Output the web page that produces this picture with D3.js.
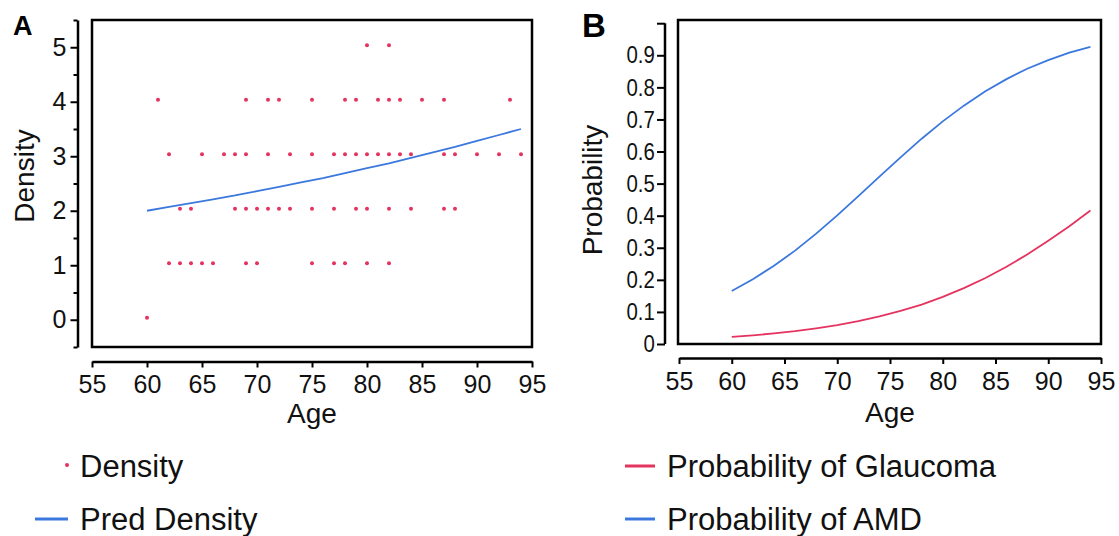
<!DOCTYPE html>
<html>
<head>
<meta charset="utf-8">
<script src="https://cdn.jsdelivr.net/npm/d3@7"></script>
<style>
  body { margin: 0; background: #fff; }
  svg { display: block; font-family: "Liberation Sans", Arial, sans-serif; }
  .frame { fill: none; stroke: #000; stroke-width: 2.5; }
  .axis path.domain { stroke: #000; stroke-width: 2.5; }
  .axis line { stroke: #000; stroke-width: 2; }
  .axis text { fill: #111; font-size: 25px; font-family: "Liberation Sans", Arial, sans-serif; }
  .title { font-size: 28px; fill: #111; }
  .legend text { font-size: 31px; fill: #111; }
</style>
</head>
<body>
<svg id="chart" width="1119" height="536"></svg>
<script>
//----------------
// Data
//----------------

// panel A: observed density by age
const densityAge   = [80, 82,
                      61, 69, 71, 72, 75, 78, 79, 81, 82, 83, 85, 87, 93,
                      62, 65, 67, 68, 69, 71, 73, 75, 77, 78, 79, 80, 81, 82, 83, 84, 87, 88, 90, 92, 94,
                      63, 64, 68, 69, 70, 71, 72, 73, 75, 77, 79, 80, 82, 84, 87, 88,
                      62, 63, 64, 65, 66, 69, 70, 75, 77, 78, 80, 82,
                      60];
const densityValue = [5, 5,
                      4, 4, 4, 4, 4, 4, 4, 4, 4, 4, 4, 4, 4,
                      3, 3, 3, 3, 3, 3, 3, 3, 3, 3, 3, 3, 3, 3, 3, 3, 3, 3, 3, 3, 3,
                      2, 2, 2, 2, 2, 2, 2, 2, 2, 2, 2, 2, 2, 2, 2, 2,
                      1, 1, 1, 1, 1, 1, 1, 1, 1, 1, 1, 1,
                      0];

// panel A: predicted density
const predAge   = [60, 62, 64, 66, 68, 70, 72, 74, 76, 78, 80, 82, 84, 86, 88, 90, 92, 94];
const predValue = [2.00, 2.07, 2.14, 2.21, 2.28, 2.36, 2.44, 2.52, 2.60, 2.69, 2.78, 2.87, 2.97, 3.07, 3.17, 3.28, 3.39, 3.50];

// panel B: probabilities by age
const probAge      = [60, 62, 64, 66, 68, 70, 72, 74, 76, 78, 80, 82, 84, 86, 88, 90, 92, 94];
const probGlaucoma = [0.022, 0.027, 0.033, 0.040, 0.049, 0.059, 0.071, 0.086, 0.103, 0.123, 0.147, 0.174, 0.205, 0.240, 0.279, 0.322, 0.367, 0.416];
const probAMD      = [0.165, 0.202, 0.244, 0.291, 0.344, 0.401, 0.461, 0.522, 0.582, 0.640, 0.694, 0.743, 0.787, 0.825, 0.858, 0.885, 0.908, 0.926];

const ageTicks = [55, 60, 65, 70, 75, 80, 85, 90, 95];
const densityTicks = [0, 1, 2, 3, 4, 5];
const densityMinor = [-0.5, 0.5, 1.5, 2.5, 3.5, 4.5, 5.5];
const probTicks = [0, 0.1, 0.2, 0.3, 0.4, 0.5, 0.6, 0.7, 0.8, 0.9, 1.0];

//----------------
// Constants
//----------------

const red = "#e5335f";
const blue = "#3b78de";

const svg = d3.select("#chart");

//----------------
// Panel A
//----------------

const xA = d3.scaleLinear().domain([55, 95]).range([92, 532]);
const yA = d3.scaleLinear().domain([-0.5, 5.5]).range([347, 20]);

svg.append("rect").attr("class", "frame")
  .attr("x", xA.range()[0]).attr("y", yA.range()[1])
  .attr("width", xA.range()[1] - xA.range()[0])
  .attr("height", yA.range()[0] - yA.range()[1]);

// minor ticks first, then the labelled ones
svg.append("g").attr("class", "axis")
  .attr("transform", "translate(77.5,0)")
  .call(d3.axisLeft(yA).tickValues(densityMinor).tickSize(4).tickSizeOuter(0).tickFormat(""));

svg.append("g").attr("class", "axis")
  .attr("transform", "translate(77.5,0)")
  .call(d3.axisLeft(yA).tickValues(densityTicks).tickSize(7).tickSizeOuter(0).tickPadding(4)
    .tickFormat(d3.format("d")))
  .call(g => g.select(".domain").remove());

svg.append("g").attr("class", "axis")
  .attr("transform", "translate(0,361.5)")
  .call(d3.axisBottom(xA).tickValues(ageTicks).tickSize(6).tickSizeOuter(0).tickPadding(8));

// regression line
var predLine = d3.line()
  .x((d, i) => xA(predAge[i]))
  .y(d => yA(d));

svg.append("path")
  .datum(predValue)
  .attr("d", predLine)
  .attr("fill", "none")
  .attr("stroke", blue)
  .attr("stroke-width", 1.8);

// observed points
svg.append("g")
  .selectAll("circle")
  .data(densityValue)
  .enter().append("circle")
    .attr("cx", (d, i) => xA(densityAge[i]))
    .attr("cy", d => yA(d) - 2)
    .attr("r", 2)
    .attr("fill", red);

svg.append("text").attr("class", "title")
  .attr("x", d3.mean(xA.range())).attr("y", 423)
  .attr("text-anchor", "middle")
  .text("Age");

svg.append("text").attr("class", "title")
  .attr("transform", "translate(34,176) rotate(-90)")
  .attr("text-anchor", "middle")
  .text("Density");

svg.append("text")
  .attr("x", 13).attr("y", 35)
  .style("font-size", "27px").style("font-weight", "bold")
  .text("A");

//----------------
// Panel B
//----------------

const xB = d3.scaleLinear().domain([55, 95]).range([679, 1101]);
const yB = d3.scaleLinear().domain([0, 1.01]).range([344, 20]);

svg.append("rect").attr("class", "frame")
  .attr("x", xB.range()[0] - 1).attr("y", yB.range()[1])
  .attr("width", xB.range()[1] - xB.range()[0] + 1)
  .attr("height", yB.range()[0] - yB.range()[1]);

svg.append("g").attr("class", "axis")
  .attr("transform", "translate(665,0)")
  .call(d3.axisLeft(yB).tickValues(probTicks).tickSize(8).tickSizeOuter(0).tickPadding(4)
    .tickFormat(d => d === 0 ? "0" : d >= 1 ? "" : d.toFixed(1)))
  .call(g => g.select(".domain").attr("d", "M0," + yB(1.0) + "V" + yB(0)))
  .call(g => g.selectAll("text")
    .style("font-size", "24px")
    .attr("transform", "scale(0.85,1)"));

svg.append("g").attr("class", "axis")
  .attr("transform", "translate(0,358)")
  .call(d3.axisBottom(xB).tickValues(ageTicks).tickSize(6).tickSizeOuter(0).tickPadding(8));

var probLine = d3.line()
  .x((d, i) => xB(probAge[i]))
  .y(d => yB(d));

svg.append("path")
  .datum(probGlaucoma)
  .attr("d", probLine)
  .attr("fill", "none")
  .attr("stroke", red)
  .attr("stroke-width", 1.8);

svg.append("path")
  .datum(probAMD)
  .attr("d", probLine)
  .attr("fill", "none")
  .attr("stroke", blue)
  .attr("stroke-width", 1.8);

svg.append("text").attr("class", "title")
  .attr("x", d3.mean(xB.range())).attr("y", 422)
  .attr("text-anchor", "middle")
  .text("Age");

svg.append("text").attr("class", "title")
  .attr("transform", "translate(602,190) rotate(-90)")
  .attr("text-anchor", "middle")
  .text("Probability");

svg.append("text")
  .attr("x", 582).attr("y", 37)
  .style("font-size", "33px").style("font-weight", "bold")
  .text("B");

//----------------
// Legends
//----------------

var legendA = svg.append("g").attr("class", "legend");

legendA.append("circle")
  .attr("cx", 67).attr("cy", 465).attr("r", 2)
  .attr("fill", red);
legendA.append("text").attr("x", 80).attr("y", 477).text("Density");

legendA.append("line")
  .attr("x1", 35).attr("x2", 68).attr("y1", 519).attr("y2", 519)
  .attr("stroke", blue).attr("stroke-width", 3);
legendA.append("text").attr("x", 80).attr("y", 530).text("Pred Density");

var legendB = svg.append("g").attr("class", "legend");

legendB.append("line")
  .attr("x1", 625).attr("x2", 655).attr("y1", 466).attr("y2", 466)
  .attr("stroke", red).attr("stroke-width", 3);
legendB.append("text").attr("x", 667).attr("y", 477).text("Probability of Glaucoma");

legendB.append("line")
  .attr("x1", 625).attr("x2", 655).attr("y1", 519).attr("y2", 519)
  .attr("stroke", blue).attr("stroke-width", 3);
legendB.append("text").attr("x", 667).attr("y", 530).text("Probability of AMD");
</script>
</body>
</html>
